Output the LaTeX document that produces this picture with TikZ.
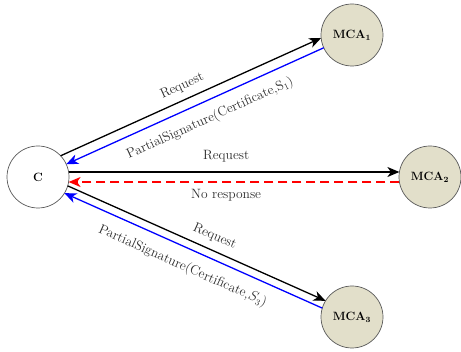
\documentclass[tikz,border=0pt]{standalone}
\usetikzlibrary{calc,arrows.meta}
\definecolor{nodefill}{RGB}{226,223,202}
\definecolor{nodeedge}{RGB}{90,90,90}
\definecolor{labgray}{RGB}{45,45,45}
\begin{document}
\begin{tikzpicture}[x=1pt,y=-1pt,
  agent/.style={circle, draw=nodeedge, line width=0.7pt, fill=nodefill, minimum size=62pt, inner sep=0pt, font=\fontsize{12}{14}\selectfont\bfseries},
  client/.style={agent, fill=white},
  tipped/.style={-{Stealth[length=12pt,width=10pt,inset=3.5pt]}},
  req/.style={tipped, line width=1.3pt, black},
  resp/.style={tipped, line width=1.3pt, blue},
  noresp/.style={tipped, line width=1.3pt, red, dash pattern=on 9pt off 5pt},
  lab/.style={text=labgray, font=\fontsize{13.5}{16}\selectfont, inner sep=0pt, sloped},
]
\useasboundingbox (0,0) rectangle (461,352);
\node[client] (C) at (38,177) {C};
\node[agent] (M1) at (352,35) {MCA$_{\mathbf{1}}$};
\node[agent] (M2) at (430,177) {MCA$_{\mathbf{2}}$};
\node[agent] (M3) at (352,317) {MCA$_{\mathbf{3}}$};

% C <-> MCA1
\draw[req, shorten <=29.3pt, shorten >=29.3pt] ($(C)!10pt!90:(M1)$) -- ($(M1)!10pt!-90:(C)$)
  node[lab, pos=0.49, above=6.9pt] {Request};
\draw[resp, shorten <=31pt, shorten >=31pt] (M1.center) -- (C.center)
  node[lab, pos=0.475, below=10.3pt] {PartialSignature(Certificate,S$_1$)};

% C <-> MCA2
\draw[req, shorten <=30.6pt, shorten >=30.6pt] ($(C)!5pt!90:(M2)$) -- ($(M2)!5pt!-90:(C)$)
  node[lab, pos=0.48, above=9.1pt] {Request};
\draw[noresp, shorten <=30.6pt, shorten >=30.6pt] ($(M2)!5pt!90:(C)$) -- ($(C)!5pt!-90:(M2)$)
  node[lab, pos=0.52, below=7.1pt] {No response};

% C <-> MCA3
\draw[req, shorten <=30.7pt, shorten >=30.7pt] ($(C)!4pt!90:(M3)$) -- ($(M3)!4pt!-90:(C)$)
  node[lab, pos=0.54, above=7pt] {Request};
\draw[resp, shorten <=30.7pt, shorten >=30.7pt] ($(M3)!4pt!90:(C)$) -- ($(C)!4pt!-90:(M3)$)
  node[lab, pos=0.51, below=11.3pt] {PartialSignature(Certificate,$S_3$)};
\end{tikzpicture}
\end{document}
